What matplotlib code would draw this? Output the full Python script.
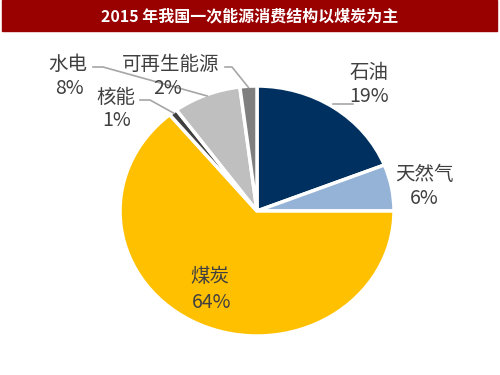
# 2015 energy consumption structure pie

import numpy as np
import matplotlib
matplotlib.use('Agg')
import matplotlib.pyplot as plt
from matplotlib.patches import Rectangle

plt.rcParams['font.family'] = ['Noto Sans CJK SC', 'DejaVu Sans']

# data
labels = ['石油', '天然气', '煤炭', '核能', '水电', '可再生能源']
shares = [19, 6, 64, 1, 8, 2]
colors = ['#00305F', '#95B3D7', '#FFC000', '#404040', '#BFBFBF', '#7F7F7F']
title = '2015 年我国一次能源消费结构以煤炭为主'

# layout (pixel positions in the 500x375 picture): name centre, percent centre
cx, cy, rx, ry = 257, 211, 137, 125
name_pos = {'石油': (369, 72), '天然气': (424, 174), '煤炭': (210, 277),
            '核能': (116, 97), '水电': (68, 64), '可再生能源': (171, 64)}
pct_pos = {'石油': (369, 97), '天然气': (424, 198), '煤炭': (212, 302),
           '核能': (117, 121), '水电': (69, 89), '可再生能源': (168, 89)}
# leader lines: (start point, elbow point) then to the wedge
leaders = {'石油': [(353, 104)], '水电': [(93, 67), (103, 67)],
           '可再生能源': [(225, 67), (232, 67)], '核能': [(140, 100), (150, 100)]}

def px2data(px, py):
    return (px - cx) / rx, (cy - py) / ry

fig = plt.figure(figsize=(5, 3.75), dpi=100)

# title bar
fig.patches.append(Rectangle((2 / 500, 1 - 31 / 375), 495 / 500, 31 / 375,
                             transform=fig.transFigure, color='#990000'))
fig.text(0.5, 1 - 16 / 375, title, color='white', fontsize=11.5,
         fontweight='bold', ha='center', va='center')

ax = fig.add_axes([(cx - rx) / 500, (375 - cy - ry) / 375, 2 * rx / 500, 2 * ry / 375])
wedges, _ = ax.pie(shares, colors=colors, startangle=90, counterclock=False,
                   wedgeprops=dict(edgecolor='white', linewidth=2.5))
ax.set_aspect('auto')
ax.set_xlim(-1, 1)
ax.set_ylim(-1, 1)
ax.axis('off')

for w, lab, val in zip(wedges, labels, shares):
    x, y = px2data(*name_pos[lab])
    ax.text(x, y, lab, ha='center', va='center', fontsize=14, color='#404040')
    x, y = px2data(*pct_pos[lab])
    ax.text(x, y, str(val) + '%', ha='center', va='center', fontsize=14, color='#404040')
    if lab in leaders:
        mid = np.deg2rad((w.theta1 + w.theta2) / 2)
        pts = [px2data(*p) for p in leaders[lab]]
        pts.append((np.cos(mid) * 0.99, np.sin(mid) * 0.99))
        if lab == '石油':
            pts = [pts[0], (pts[1][0], pts[0][1])]
        xs, ys = zip(*pts)
        ax.plot(xs, ys, color='#A6A6A6', lw=1.2, clip_on=False)

plt.savefig('out.png', dpi=100)
